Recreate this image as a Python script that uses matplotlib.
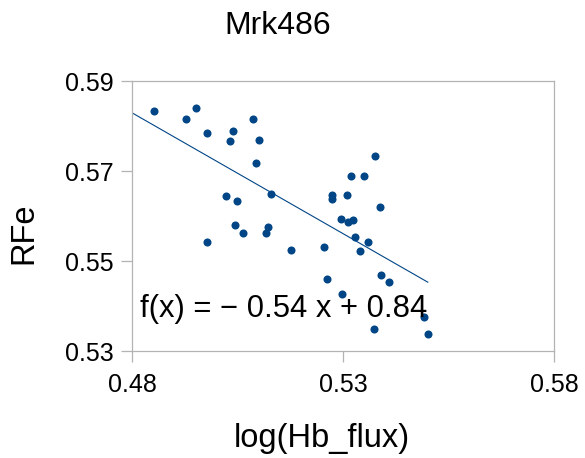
import matplotlib
matplotlib.use("Agg")
import matplotlib.pyplot as plt

plt.rcParams["font.family"] = ["Liberation Sans", "DejaVu Sans"]

# log(Hb_flux) vs RFe for Mrk486
log_hb_flux = [
    0.4853, 0.4951, 0.4927, 0.4977, 0.5039, 0.5033, 0.5087, 0.5100, 0.5095, 0.5129,
    0.5023, 0.5050, 0.5043, 0.5122, 0.5376, 0.5318, 0.5350, 0.5275, 0.5275, 0.5309,
    0.5388, 0.5295, 0.5312, 0.5324, 0.5328, 0.5360, 0.5340, 0.5176, 0.5255, 0.5263,
    0.5389, 0.5408, 0.4977, 0.5063, 0.5117, 0.5298, 0.5493, 0.5374, 0.5501,
]
rfe = [
    0.5834, 0.5840, 0.5815, 0.5785, 0.5790, 0.5767, 0.5815, 0.5768, 0.5718, 0.5650,
    0.5644, 0.5633, 0.5580, 0.5575, 0.5734, 0.5689, 0.5690, 0.5646, 0.5638, 0.5647,
    0.5621, 0.5594, 0.5586, 0.5592, 0.5554, 0.5542, 0.5522, 0.5524, 0.5532, 0.5459,
    0.5469, 0.5453, 0.5542, 0.5562, 0.5562, 0.5426, 0.5376, 0.5349, 0.5338,
]

# linear trend line
slope = -0.537
intercept = 0.8407

blue = "#004586"
grey = "#b3b3b3"

fig = plt.figure(figsize=(5.85, 4.58), dpi=100)
ax = fig.add_axes([0.2256, 0.2336, 0.7214, 0.5895])

ax.plot(log_hb_flux, rfe, "o", color=blue, markersize=5.8, markeredgewidth=0)
x0, x1 = 0.48, max(log_hb_flux)
ax.plot([x0, x1], [slope * x0 + intercept, slope * x1 + intercept],
        color=blue, linewidth=0.8)

ax.set_xlim(0.48, 0.58)
ax.set_ylim(0.53, 0.59)
ax.set_xticks([0.48, 0.53, 0.58])
ax.set_yticks([0.53, 0.55, 0.57, 0.59])
ax.set_xticklabels(["0.48", "0.53", "0.58"])
ax.set_yticklabels(["0.53", "0.55", "0.57", "0.59"])

for s in ax.spines.values():
    s.set_color(grey)
    s.set_linewidth(0.9)
ax.tick_params(axis="both", direction="out", length=8, width=0.9,
               color=grey, labelsize=18, labelcolor="black")
ax.tick_params(axis="x", pad=7.5)
ax.tick_params(axis="y", pad=5.3)

eq = f"f(x) = \u2212 {-slope:.2f} x + {intercept:.2f}"
ax.text(0.019, 0.127, eq, transform=ax.transAxes, fontsize=22.3,
        va="baseline", ha="left")

fig.text(277.5 / 585, 1 - 34 / 458, "Mrk486", fontsize=23, ha="center", va="baseline")
fig.text(322 / 585, 1 - 438 / 458, "log(Hb_flux)", fontsize=23.5, ha="center", va="center")
fig.text(24 / 585, 1 - 233 / 458, "RFe", fontsize=23.5, ha="center", va="center", rotation=90)

fig.savefig("out.png", dpi=100)
